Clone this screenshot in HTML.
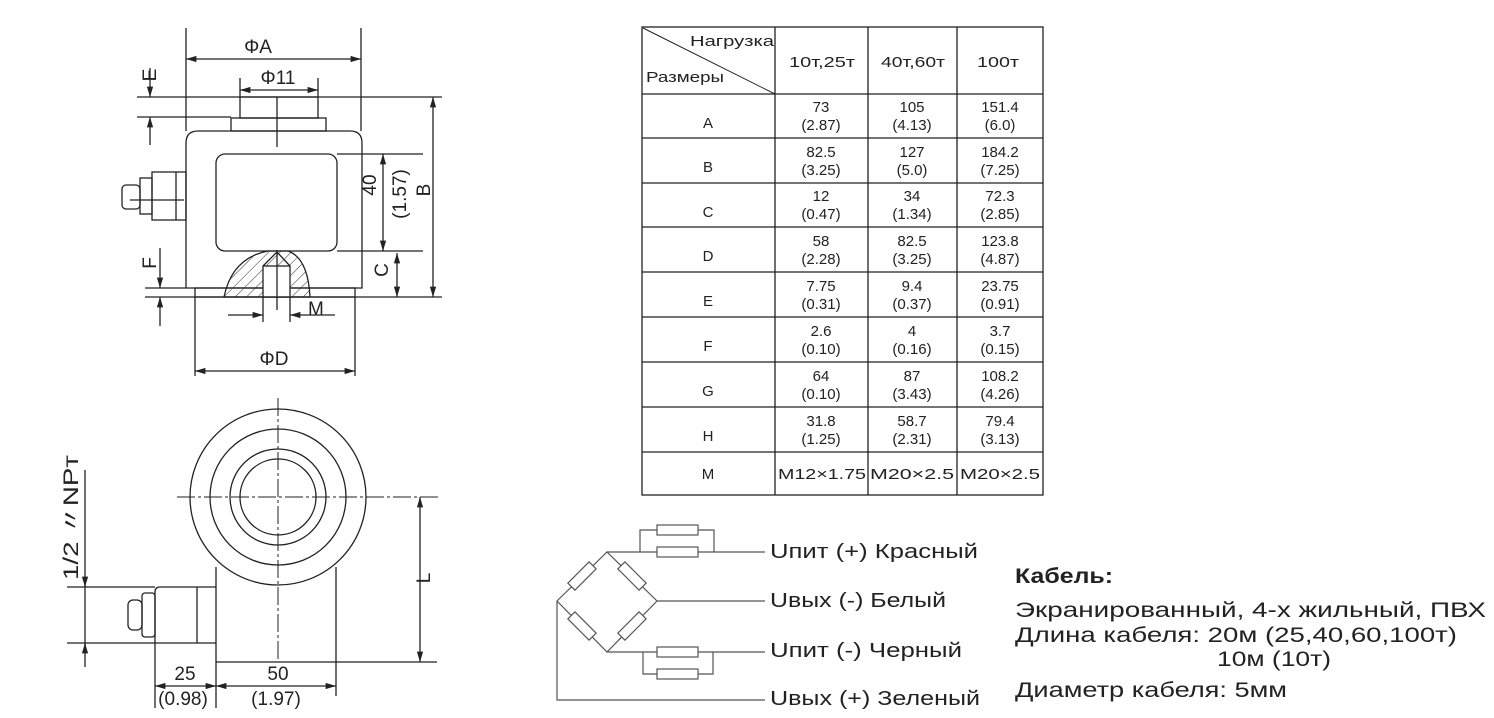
<!DOCTYPE html>
<html><head><meta charset="utf-8"><style>html,body{margin:0;padding:0;background:#fff}svg{display:block}text{font-family:"Liberation Sans",sans-serif;fill:#222}</style></head><body>
<svg width="1494" height="718" viewBox="0 0 1494 718" xmlns="http://www.w3.org/2000/svg">
<defs><marker id="a" viewBox="0 0 10 10" refX="10" refY="5" markerWidth="8" markerHeight="8" orient="auto-start-reverse"><path d="M0,2 L10,5 L0,8" fill="#222"/></marker>
<pattern id="h" width="8" height="8" patternUnits="userSpaceOnUse" patternTransform="rotate(45)"><line x1="0" y1="0" x2="0" y2="8" stroke="#333" stroke-width="1"/></pattern></defs>
<g stroke="#222" stroke-width="1.3" fill="none">
<line x1="186" y1="28" x2="186" y2="131"/><line x1="361" y1="28" x2="361" y2="131"/>
<line x1="186" y1="59" x2="361" y2="59" marker-start="url(#a)" marker-end="url(#a)"/>
<line x1="240" y1="78" x2="240" y2="97"/><line x1="318" y1="78" x2="318" y2="97"/>
<line x1="240" y1="90" x2="318" y2="90" marker-start="url(#a)" marker-end="url(#a)"/>
<rect x="240" y="97" width="78" height="21"/><rect x="231" y="118" width="95" height="13"/>
<path d="M186,288 V143 Q186,131 198,131 H350 Q362,131 362,143 V288 Z"/>
<rect x="216" y="154" width="121" height="97" rx="9"/>
<rect x="195" y="288" width="160" height="9"/>
<line x1="277" y1="97" x2="277" y2="147"/>
<rect x="152" y="172" width="34" height="48"/><rect x="140" y="178" width="12" height="36"/><rect x="122" y="185" width="18" height="24" rx="4"/>
<line x1="176" y1="172" x2="176" y2="220"/><line x1="130" y1="200" x2="184" y2="200"/>
<path d="M224,297 Q232,258 268,251 H288 Q308,258 310,297 Z" fill="url(#h)"/>
<rect x="263" y="266" width="27" height="31" fill="#fff"/><path d="M263,266 L277,252 L290,266"/>
<line x1="277" y1="250" x2="277" y2="310"/>
<line x1="263" y1="297" x2="263" y2="322"/><line x1="290" y1="297" x2="290" y2="322"/>
<line x1="228" y1="315" x2="263" y2="315" marker-end="url(#a)"/><line x1="335" y1="315" x2="290" y2="315" marker-end="url(#a)"/>
<line x1="137" y1="97" x2="442" y2="97"/><line x1="137" y1="117" x2="231" y2="117"/>
<line x1="150" y1="68" x2="150" y2="97" marker-end="url(#a)"/><line x1="150" y1="145" x2="150" y2="117" marker-end="url(#a)"/>
<line x1="337" y1="154" x2="423" y2="154"/><line x1="337" y1="251" x2="423" y2="251"/>
<line x1="145" y1="297" x2="442" y2="297"/><line x1="145" y1="288" x2="186" y2="288"/>
<line x1="160" y1="248" x2="160" y2="288" marker-end="url(#a)"/><line x1="160" y1="326" x2="160" y2="297" marker-end="url(#a)"/>
<line x1="433" y1="97" x2="433" y2="297" marker-start="url(#a)" marker-end="url(#a)"/>
<line x1="383" y1="154" x2="383" y2="251" marker-start="url(#a)" marker-end="url(#a)"/>
<line x1="397" y1="253" x2="397" y2="297" marker-start="url(#a)" marker-end="url(#a)"/>
<line x1="195" y1="297" x2="195" y2="376"/><line x1="355" y1="297" x2="355" y2="376"/>
<line x1="195" y1="371" x2="355" y2="371" marker-start="url(#a)" marker-end="url(#a)"/>
<circle cx="278" cy="497" r="88"/><circle cx="278" cy="497" r="68"/><circle cx="278" cy="497" r="48"/><circle cx="278" cy="497" r="38"/>
<line x1="177" y1="497" x2="440" y2="497" stroke-dasharray="18 3 3 3" stroke-width="1"/>
<line x1="278" y1="398" x2="278" y2="662" stroke-dasharray="18 3 3 3" stroke-width="1"/>
<path d="M216,567 V662 H336 V567"/>
<path d="M216,587 H160 Q155,587 155,592 V643 H216"/><line x1="197" y1="587" x2="197" y2="643"/>
<rect x="142" y="593" width="13" height="44" rx="3"/><rect x="128" y="600" width="14" height="30" rx="5"/>
<line x1="67" y1="587" x2="155" y2="587"/><line x1="67" y1="643" x2="155" y2="643"/>
<line x1="85" y1="470" x2="85" y2="667"/>
<line x1="85" y1="577" x2="85" y2="587" marker-end="url(#a)"/><line x1="85" y1="653" x2="85" y2="643" marker-end="url(#a)"/>
<line x1="336" y1="662" x2="437" y2="662"/>
<line x1="420" y1="497" x2="420" y2="662" marker-start="url(#a)" marker-end="url(#a)"/>
<line x1="155" y1="643" x2="155" y2="708"/><line x1="216" y1="662" x2="216" y2="708"/><line x1="336" y1="662" x2="336" y2="696"/>
<line x1="155" y1="686" x2="216" y2="686" marker-start="url(#a)" marker-end="url(#a)"/>
<line x1="216" y1="686" x2="336" y2="686" marker-start="url(#a)" marker-end="url(#a)"/>
<rect x="642" y="27" width="401" height="468"/>
<line x1="775" y1="27" x2="775" y2="495"/><line x1="868" y1="27" x2="868" y2="495"/><line x1="957" y1="27" x2="957" y2="495"/>
<line x1="642" y1="94" x2="1043" y2="94"/><line x1="642" y1="138" x2="1043" y2="138"/><line x1="642" y1="183" x2="1043" y2="183"/><line x1="642" y1="227" x2="1043" y2="227"/><line x1="642" y1="272" x2="1043" y2="272"/><line x1="642" y1="317" x2="1043" y2="317"/><line x1="642" y1="362" x2="1043" y2="362"/><line x1="642" y1="407" x2="1043" y2="407"/><line x1="642" y1="452" x2="1043" y2="452"/>
<line x1="643" y1="28" x2="775" y2="94" stroke-width="1"/>
<g stroke="#555" stroke-width="1.2">
<path d="M557,601 L607,552 L657,601 L607,652 Z"/>
<g fill="#fff">
<rect x="-5" y="-15" width="10" height="30" transform="translate(582,576) rotate(45)"/>
<rect x="-5" y="-15" width="10" height="30" transform="translate(632,576) rotate(-45)"/>
<rect x="-5" y="-15" width="10" height="30" transform="translate(582,626) rotate(-45)"/>
<rect x="-5" y="-15" width="10" height="30" transform="translate(632,626) rotate(45)"/>
</g>
<path d="M607,552 H765 M640,552 V530 H714 V552"/><rect x="657" y="525" width="41" height="10" fill="#fff"/><rect x="657" y="547" width="41" height="10" fill="#fff"/>
<path d="M657,601 H765"/>
<path d="M607,652 H765 M643,652 V674 H713 V652"/><rect x="657" y="647" width="41" height="10" fill="#fff"/><rect x="657" y="669" width="41" height="10" fill="#fff"/>
<path d="M557,601 V700 H765"/>
</g>
</g>
<g font-size="19">
<text x="258" y="53" text-anchor="middle">ΦA</text>
<text x="278" y="84" text-anchor="middle">Φ11</text>
<text x="274" y="365" text-anchor="middle">ΦD</text>
<text x="308" y="315">M</text>
<text transform="translate(156,75) rotate(-90)" text-anchor="middle">E</text>
<text transform="translate(156,263) rotate(-90)" text-anchor="middle">F</text>
<text transform="translate(388,270) rotate(-90)" text-anchor="middle">C</text>
<text transform="translate(376,185) rotate(-90)" text-anchor="middle">40</text>
<text transform="translate(406,194) rotate(-90)" text-anchor="middle">(1.57)</text>
<text transform="translate(430,190) rotate(-90)" text-anchor="middle">B</text>
<text transform="translate(430,578) rotate(-90)" text-anchor="middle">L</text>
<text transform="translate(78,580) rotate(-90)" textLength="125" lengthAdjust="spacingAndGlyphs" font-size="21">1/2 〃NPт</text>
<text x="185" y="680" text-anchor="middle">25</text><text x="183" y="705" text-anchor="middle">(0.98)</text>
<text x="278" y="680" text-anchor="middle">50</text><text x="276" y="705" text-anchor="middle">(1.97)</text>
</g>
<g font-size="20" fill="#333">
<text x="770" y="558" textLength="208" lengthAdjust="spacingAndGlyphs">Uпит (+) Красный</text>
<text x="770" y="607" textLength="176" lengthAdjust="spacingAndGlyphs">Uвых (-) Белый</text>
<text x="770" y="657" textLength="192" lengthAdjust="spacingAndGlyphs">Uпит (-) Черный</text>
<text x="770" y="705" textLength="210" lengthAdjust="spacingAndGlyphs">Uвых (+) Зеленый</text>
</g>
<text x="1015" y="583" font-size="21" font-weight="bold" textLength="98" lengthAdjust="spacingAndGlyphs">Кабель:</text>
<g font-size="21">
<text x="1015" y="617" textLength="471" lengthAdjust="spacingAndGlyphs">Экранированный, 4-х жильный, ПВХ</text>
<text x="1015" y="642" textLength="442" lengthAdjust="spacingAndGlyphs">Длина кабеля: 20м (25,40,60,100т)</text>
<text x="1217" y="666" textLength="114" lengthAdjust="spacingAndGlyphs">10м (10т)</text>
<text x="1015" y="697" textLength="272" lengthAdjust="spacingAndGlyphs">Диаметр кабеля: 5мм</text>
</g>
<g font-size="15" text-anchor="middle">
<text x="774" y="46" text-anchor="end" textLength="84" lengthAdjust="spacingAndGlyphs">Нагрузка</text>
<text x="646" y="82" text-anchor="start" textLength="78" lengthAdjust="spacingAndGlyphs">Размеры</text>
<text x="789" y="67" text-anchor="start" textLength="66" lengthAdjust="spacingAndGlyphs">10т,25т</text><text x="881" y="67" text-anchor="start" textLength="64" lengthAdjust="spacingAndGlyphs">40т,60т</text><text x="977" y="67" text-anchor="start" textLength="42" lengthAdjust="spacingAndGlyphs">100т</text>
<text x="708" y="128">A</text><text x="708" y="172">B</text><text x="708" y="217">C</text><text x="708" y="261">D</text><text x="708" y="306">E</text><text x="708" y="351">F</text><text x="708" y="396">G</text><text x="708" y="441">H</text><text x="708" y="479">M</text>
<text x="778" y="479" text-anchor="start" textLength="88" lengthAdjust="spacingAndGlyphs">M12×1.75</text><text x="870" y="479" text-anchor="start" textLength="84" lengthAdjust="spacingAndGlyphs">M20×2.5</text><text x="960" y="479" text-anchor="start" textLength="80" lengthAdjust="spacingAndGlyphs">M20×2.5</text>
</g>
<g font-size="15" text-anchor="middle" font-family="Liberation Mono">
<text x="821" y="112">73</text><text x="821" y="130">(2.87)</text><text x="912" y="112">105</text><text x="912" y="130">(4.13)</text><text x="1000" y="112">151.4</text><text x="1000" y="130">(6.0)</text>
<text x="821" y="157">82.5</text><text x="821" y="175">(3.25)</text><text x="912" y="157">127</text><text x="912" y="175">(5.0)</text><text x="1000" y="157">184.2</text><text x="1000" y="175">(7.25)</text>
<text x="821" y="201">12</text><text x="821" y="219">(0.47)</text><text x="912" y="201">34</text><text x="912" y="219">(1.34)</text><text x="1000" y="201">72.3</text><text x="1000" y="219">(2.85)</text>
<text x="821" y="246">58</text><text x="821" y="264">(2.28)</text><text x="912" y="246">82.5</text><text x="912" y="264">(3.25)</text><text x="1000" y="246">123.8</text><text x="1000" y="264">(4.87)</text>
<text x="821" y="291">7.75</text><text x="821" y="309">(0.31)</text><text x="912" y="291">9.4</text><text x="912" y="309">(0.37)</text><text x="1000" y="291">23.75</text><text x="1000" y="309">(0.91)</text>
<text x="821" y="336">2.6</text><text x="821" y="354">(0.10)</text><text x="912" y="336">4</text><text x="912" y="354">(0.16)</text><text x="1000" y="336">3.7</text><text x="1000" y="354">(0.15)</text>
<text x="821" y="381">64</text><text x="821" y="399">(0.10)</text><text x="912" y="381">87</text><text x="912" y="399">(3.43)</text><text x="1000" y="381">108.2</text><text x="1000" y="399">(4.26)</text>
<text x="821" y="426">31.8</text><text x="821" y="444">(1.25)</text><text x="912" y="426">58.7</text><text x="912" y="444">(2.31)</text><text x="1000" y="426">79.4</text><text x="1000" y="444">(3.13)</text>
</g>
</svg>
</body></html>
